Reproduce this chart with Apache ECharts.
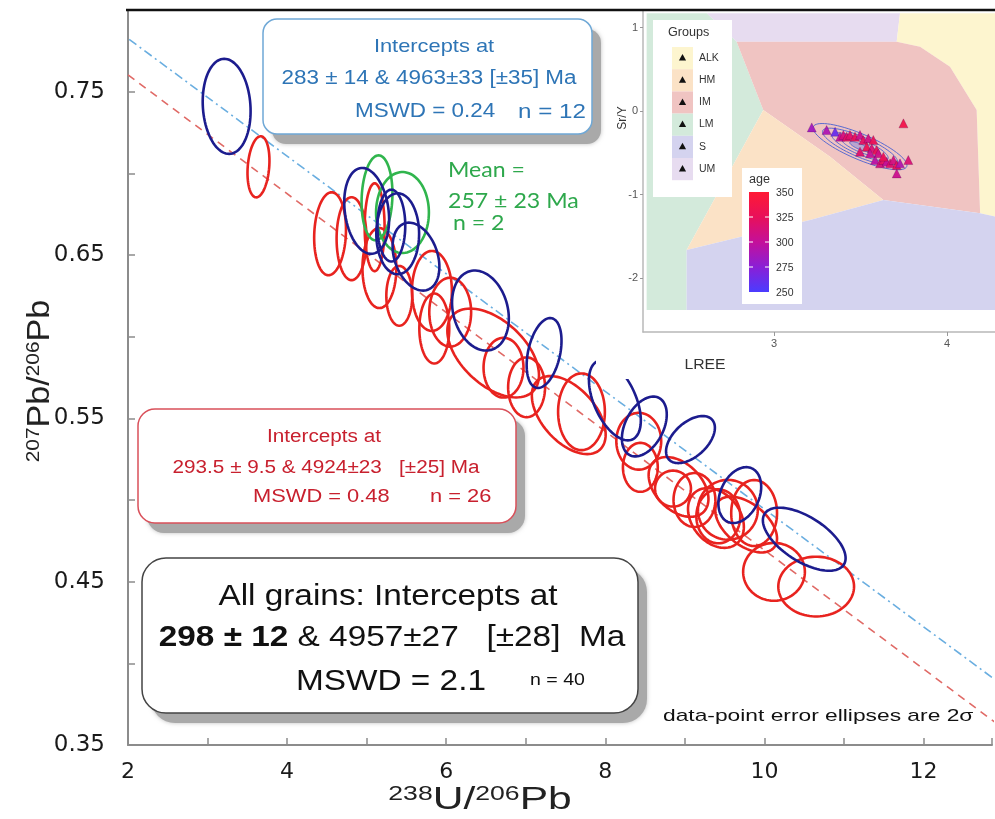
<!DOCTYPE html>
<html>
<head>
<meta charset="utf-8">
<script src="https://cdn.jsdelivr.net/npm/echarts@6/dist/echarts.min.js"></script>
<style>
html,body{margin:0;padding:0;background:#fff}
#chart{width:995px;height:819px}
</style>
</head>
<body>
<div id="chart"></div>
<script>
// ---------- Tera-Wasserburg diagram: 238U/206Pb vs 207Pb/206Pb ----------
// error ellipses: [238U/206Pb, 207Pb/206Pb, half-range x, half-range y, error correlation]
const redEllipses = [
  [3.64, 0.704, 0.138, 0.0187, 0.2],
  [4.54, 0.663, 0.200, 0.0254, 0.1],
  [4.81, 0.660, 0.188, 0.0254, 0.0],
  [5.10, 0.667, 0.125, 0.0269, 0.0],
  [5.16, 0.642, 0.213, 0.0245, 0.0],
  [5.41, 0.625, 0.163, 0.0183, 0.0],
  [5.82, 0.628, 0.251, 0.0245, 0.0],
  [5.85, 0.605, 0.188, 0.0214, 0.0],
  [6.05, 0.615, 0.263, 0.0211, 0.0],
  [6.59, 0.590, 0.576, 0.0272, -0.5],
  [6.72, 0.581, 0.251, 0.0183, 0.0],
  [7.01, 0.569, 0.232, 0.0183, 0.0],
  [7.54, 0.552, 0.464, 0.0239, -0.5],
  [7.70, 0.554, 0.294, 0.0235, 0.0],
  [8.42, 0.536, 0.282, 0.0174, 0.0],
  [8.44, 0.520, 0.219, 0.0150, 0.0],
  [8.92, 0.508, 0.376, 0.0183, -0.4],
  [8.85, 0.507, 0.226, 0.0110, 0.0],
  [9.12, 0.500, 0.263, 0.0165, 0.0],
  [9.39, 0.489, 0.351, 0.0183, -0.3],
  [9.54, 0.494, 0.376, 0.0183, 0.0],
  [9.77, 0.485, 0.388, 0.0171, -0.5],
  [9.87, 0.492, 0.288, 0.0202, 0.0],
  [10.12, 0.456, 0.388, 0.0177, 0.0],
  [10.65, 0.447, 0.476, 0.0183, 0.0],
  [9.42, 0.490, 0.276, 0.0165, 0.0]
];
const blueEllipses = [
  [3.24, 0.741, 0.301, 0.0291, -0.1],
  [5.00, 0.677, 0.282, 0.0263, -0.2],
  [5.39, 0.663, 0.269, 0.0248, 0.0],
  [5.62, 0.649, 0.294, 0.0208, -0.3],
  [5.31, 0.668, 0.175, 0.0220, 0.0],
  [6.43, 0.616, 0.357, 0.0245, -0.2],
  [7.23, 0.590, 0.219, 0.0214, 0.35],
  [8.12, 0.561, 0.326, 0.0245, -0.5],
  [8.49, 0.545, 0.282, 0.0183, 0.4],
  [9.07, 0.537, 0.307, 0.0144, 0.5],
  [9.69, 0.503, 0.269, 0.0171, 0.3],
  [10.50, 0.476, 0.520, 0.0193, -0.6]
];
const greenEllipses = [
  [5.13, 0.685, 0.194, 0.0260, 0.1],
  [5.45, 0.676, 0.332, 0.0248, 0.0]
];
// discordia intercept ages (Ma): [lower, upper]
const redIntercepts = [293.5, 4924];
const blueIntercepts = [283, 4963];
const xTickLabels = [2, 4, 6, 8, 10, 12];
const yTickLabels = [0.35, 0.45, 0.55, 0.65, 0.75];

// ---------- inset: LREE vs Sr/Y classification ----------
const groupNames = ['ALK', 'HM', 'IM', 'LM', 'S', 'UM'];
const fieldUM = [[2.611,1.170],[3.728,1.170],[3.709,0.830],[2.784,0.830]];
const fieldLM = [[2.264,1.170],[2.611,1.170],[2.784,0.830],[2.938,0.012],[2.495,-1.665],[2.495,-2.383],[2.264,-2.383]];
const fieldALK = [[3.728,1.170],[4.277,1.170],[4.277,-1.265],[4.191,-1.226],[4.171,0.012],[4.017,0.531],[3.844,0.770],[3.709,0.830]];
const fieldIM = [[2.784,0.830],[3.709,0.830],[3.844,0.770],[4.017,0.531],[4.171,0.012],[4.191,-1.226],[3.632,-1.066],[3.324,-0.547],[2.938,0.012]];
const fieldHM = [[2.938,0.012],[3.324,-0.547],[3.632,-1.066],[3.208,-1.305],[2.495,-1.665]];
const fieldS = [[2.495,-1.665],[3.208,-1.305],[3.632,-1.066],[4.191,-1.226],[4.277,-1.265],[4.277,-2.383],[2.495,-2.383]];
const grainLREE = [3.748,3.218,3.304,3.353,3.382,3.401,3.420,3.439,3.468,3.497,3.516,3.545,3.574,3.497,3.536,
                   3.565,3.593,3.603,3.584,3.613,3.632,3.651,3.671,3.690,3.709,3.728,3.709,3.776,3.632,3.555];
const grainSrY = [-0.148,-0.196,-0.228,-0.248,-0.307,-0.287,-0.307,-0.287,-0.307,-0.287,-0.347,-0.327,-0.347,-0.487,-0.427,
                  -0.447,-0.467,-0.507,-0.587,-0.627,-0.587,-0.607,-0.627,-0.587,-0.647,-0.627,-0.747,-0.587,-0.547,-0.507];
const grainAge = [335,285,290,262,300,312,320,318,325,305,322,310,328,318,330,
                  315,326,308,296,312,322,300,318,310,325,292,305,315,328,302];
const ageTicks = [350, 325, 300, 275, 250];
// density contours: centre, half-axis vectors, relative levels
const contourCentre = [3.497, -0.427];
const contourMajor = [0.2697, -0.2395];
const contourMinor = [-0.0289, -0.1397];
const contourLevels = [1.0, 0.8, 0.6, 0.4, 0.22];

// ---------- helpers ----------
const FONT = '"Liberation Sans", Arial, sans-serif';
const LAMBDA238 = 1.55125e-4;  // per Ma
const LAMBDA235 = 9.8485e-4;   // per Ma
const U238_U235 = 137.88;
function twPoint(tMa) {
  const a = Math.exp(LAMBDA238 * tMa) - 1;
  const b = Math.exp(LAMBDA235 * tMa) - 1;
  return [1 / a, b / a / U238_U235];
}
function discordia(ages) {
  return [twPoint(ages[1]), twPoint(ages[0])];
}

function ellipseRenderer(color) {
  return function (params, api) {
    const cx = api.value(0), cy = api.value(1), ex = api.value(2), ey = api.value(3), r = api.value(4);
    const s = Math.sqrt(1 - r * r);
    const pts = [];
    for (let k = 0; k < 90; k++) {
      const t = 2 * Math.PI * k / 90;
      pts.push(api.coord([cx + ex * Math.cos(t), cy + ey * (r * Math.cos(t) + s * Math.sin(t))]));
    }
    return { type: 'polygon', shape: { points: pts }, style: { fill: 'none', stroke: color, lineWidth: 2.6 } };
  };
}
function ellipseSeries(data, color) {
  return {
    type: 'custom', xAxisIndex: 0, yAxisIndex: 0, clip: true, z: 3,
    encode: { x: 0, y: 1 }, data: data, renderItem: ellipseRenderer(color)
  };
}

const fields = [
  { pts: fieldUM, color: '#e7dcf0' },
  { pts: fieldLM, color: '#d3eadb' },
  { pts: fieldALK, color: '#fdf5cf' },
  { pts: fieldIM, color: '#f0c4c2' },
  { pts: fieldHM, color: '#fbe2c6' },
  { pts: fieldS, color: '#d4d3ef' }
];
const groupColors = ['#fdf5cf', '#fbe2c6', '#f0c4c2', '#d3eadb', '#d4d3ef', '#e7dcf0'];

function txt(text, x, y, size, color, o) {
  o = o || {};
  return {
    type: 'text', x: x, y: y, z: o.z || 45, scaleX: o.sx === undefined ? 1.15 : o.sx,
    rotation: o.rot || 0,
    style: {
      text: text, fill: color, fontSize: size, fontFamily: o.family || FONT,
      fontWeight: o.weight || 'normal', align: o.align || 'left', verticalAlign: 'middle',
      rich: o.rich
    }
  };
}
// rounded text box with a drop shadow plate behind it
function box(x, y, w, h, r, stroke) {
  return [
    {
      type: 'rect', z: 39, shape: { x: x + 9, y: y + 10, width: w, height: h, r: r },
      style: { fill: '#a9a9a9', shadowColor: 'rgba(0,0,0,0.25)', shadowBlur: 4 }
    },
    {
      type: 'rect', z: 40, shape: { x: x, y: y, width: w, height: h, r: r },
      style: { fill: '#fff', stroke: stroke, lineWidth: 1.5 }
    }
  ];
}

const chart = echarts.init(document.getElementById('chart'), null, { renderer: 'canvas' });

// ---------- graphic overlay ----------
const blueTxt = '#2e75b6', redTxt = '#c8202e', greenTxt = '#2ea84c';
const els = [];
// inset backdrop
els.push({ type: 'rect', z: 10, shape: { x: 596, y: 11, width: 399, height: 368 }, style: { fill: '#fff' } });
// inset group legend
els.push({ type: 'rect', z: 30, shape: { x: 653, y: 20, width: 79, height: 177 }, style: { fill: '#fff' } });
els.push(txt('Groups', 668, 33, 12, '#333', { z: 31, sx: 1.05 }));
groupNames.forEach(function (g, i) {
  const top = 47 + 22.2 * i;
  els.push({ type: 'rect', z: 31, shape: { x: 672, y: top, width: 21, height: 22.2 }, style: { fill: groupColors[i] } });
  const cx = 682.5, cy = top + 11;
  els.push({ type: 'polygon', z: 32, shape: { points: [[cx, cy - 4], [cx - 3.6, cy + 2.5], [cx + 3.6, cy + 2.5]] }, style: { fill: '#111' } });
  els.push(txt(g, 699, cy, 10, '#333', { z: 32, sx: 1.05 }));
});
// inset age colour bar
els.push({ type: 'rect', z: 30, shape: { x: 742, y: 168, width: 60, height: 136 }, style: { fill: '#fff' } });
els.push(txt('age', 749, 180, 12, '#333', { z: 31, sx: 1.05 }));
els.push({
  type: 'rect', z: 31, shape: { x: 749, y: 192, width: 20, height: 100 },
  style: {
    fill: {
      type: 'linear', x: 0, y: 0, x2: 0, y2: 1,
      colorStops: [
        { offset: 0, color: '#ff1a35' }, { offset: 0.25, color: '#e8105a' },
        { offset: 0.5, color: '#c4109a' }, { offset: 0.75, color: '#8a1fd6' }, { offset: 1, color: '#4b3cff' }
      ]
    }
  }
});
ageTicks.forEach(function (a) {
  const yy = 192 + (350 - a);
  if (a !== 350 && a !== 250) {
    els.push({ type: 'line', z: 32, shape: { x1: 749, y1: yy, x2: 753, y2: yy }, style: { stroke: '#fff', lineWidth: 1 } });
    els.push({ type: 'line', z: 32, shape: { x1: 765, y1: yy, x2: 769, y2: yy }, style: { stroke: '#fff', lineWidth: 1 } });
  }
  els.push(txt(String(a), 776, yy + 1, 10, '#333', { z: 32, sx: 1.05 }));
});
// inset axis titles
els.push(txt('Sr/Y', 623, 118, 12, '#333', { z: 31, sx: 1, rot: Math.PI / 2, align: 'center' }));
els.push(txt('LREE', 705, 365, 15, '#333', { z: 31, sx: 1.05, align: 'center' }));

// isochron result boxes
box(263, 19, 329, 115, 14, '#6fa8d6').forEach(function (e) { els.push(e); });
els.push(txt('Intercepts at', 434, 47, 19, blueTxt, { align: 'center' }));
els.push(txt('283 ± 14 & 4963±33 [±35] Ma', 429, 79, 19.5, blueTxt, { align: 'center' }));
els.push(txt('MSWD = 0.24', 355, 112, 19.5, blueTxt));
els.push(txt('n = 12', 518, 112, 21, blueTxt));

els.push(txt('Mean =', 448, 170, 22, greenTxt, { family: 'Lato, "Open Sans", sans-serif', sx: 1.05 }));
els.push(txt('257 ± 23 Ma', 448, 201, 22, greenTxt, { family: 'Lato, "Open Sans", sans-serif', sx: 1.05 }));
els.push(txt('n = 2', 453, 223, 22, greenTxt, { family: 'Lato, "Open Sans", sans-serif', sx: 1.05 }));

box(138, 409, 378, 114, 17, '#d9505a').forEach(function (e) { els.push(e); });
els.push(txt('Intercepts at', 324, 437, 18, redTxt, { align: 'center' }));
els.push(txt('293.5 ± 9.5 & 4924±23   [±25] Ma', 326, 468, 18, redTxt, { align: 'center' }));
els.push(txt('MSWD = 0.48', 253, 497, 19, redTxt));
els.push(txt('n = 26', 430, 497, 19, redTxt));

box(142, 558, 496, 155, 24, '#444').forEach(function (e) { els.push(e); });
els.push(txt('All grains: Intercepts at', 388, 597, 29, '#111', { align: 'center' }));
els.push(txt('{b|298 ± 12} & 4957±27   [±28]  Ma', 392, 638, 29, '#111', {
  align: 'center',
  rich: { b: { fontSize: 29, fontWeight: 'bold', fontFamily: FONT, fill: '#111' } }
}));
els.push(txt('MSWD = 2.1', 296, 682, 29, '#111'));
els.push(txt('n = 40', 530, 680, 17, '#111'));
els.push(txt('data-point error ellipses are 2σ', 663, 716, 17, '#111', { sx: 1.34 }));

// main axis titles
els.push(txt('{s|207}{b|Pb/}{s|206}{b|Pb}', 40, 381, 31, '#222', {
  rot: Math.PI / 2, align: 'center', sx: 1.1, z: 5,
  rich: {
    s: { fontSize: 19, fontFamily: FONT, fill: '#222', verticalAlign: 'top' },
    b: { fontSize: 31, fontFamily: FONT, fill: '#222' }
  }
}));
els.push(txt('{s|238}{b|U/}{s|206}{b|Pb}', 480, 800, 32, '#222', {
  align: 'center', sx: 1.33, z: 5,
  rich: {
    s: { fontSize: 20, fontFamily: FONT, fill: '#222', verticalAlign: 'top' },
    b: { fontSize: 32, fontFamily: FONT, fill: '#222' }
  }
}));
// frame top edge
els.push({ type: 'line', z: 60, shape: { x1: 126, y1: 10, x2: 995, y2: 10 }, style: { stroke: '#111', lineWidth: 2.5 } });

const option = {
  animation: false,
  grid: [
    { left: 128, top: 10, right: 0, bottom: 74 },
    { left: 643, top: 10, right: 0, bottom: 487 }
  ],
  xAxis: [
    {
      type: 'value', gridIndex: 0, min: 2, max: 12.86, interval: 1,
      axisLine: { show: true, lineStyle: { color: '#8c8c8c', width: 2 } },
      axisTick: { show: true, inside: true, length: 7, lineStyle: { color: '#8c8c8c', width: 1.5 } },
      axisLabel: {
        margin: 16, fontSize: 22, color: '#1a1a1a', fontFamily: '"DejaVu Sans", sans-serif',
        formatter: function (v) { return xTickLabels.indexOf(Math.round(v * 1000) / 1000) >= 0 ? String(v) : ''; }
      },
      splitLine: { show: false }
    },
    {
      type: 'value', gridIndex: 1, min: 2.243, max: 4.277, z: 25,
      axisLine: { show: true, onZero: false, lineStyle: { color: '#b8b8b8', width: 1.5 } },
      axisTick: { show: true, length: 4, customValues: [3, 4], lineStyle: { color: '#999' } },
      axisLabel: { customValues: [3, 4], fontSize: 11, color: '#555', margin: 6, fontFamily: FONT },
      splitLine: { show: false }
    }
  ],
  yAxis: [
    {
      type: 'value', gridIndex: 0, min: 0.35, max: 0.8, interval: 0.05,
      axisLine: { show: true, lineStyle: { color: '#8c8c8c', width: 2 } },
      axisTick: { show: true, inside: true, length: 7, lineStyle: { color: '#8c8c8c', width: 1.5 } },
      axisLabel: {
        margin: 23, fontSize: 23, color: '#1a1a1a', fontFamily: '"DejaVu Sans", sans-serif',
        formatter: function (v) {
          const r = Math.round(v * 100) / 100;
          return yTickLabels.indexOf(r) >= 0 ? r.toFixed(2) : '';
        }
      },
      splitLine: { show: false }
    },
    {
      type: 'value', gridIndex: 1, min: -2.647, max: 1.21, z: 25,
      axisLine: { show: true, onZero: false, lineStyle: { color: '#b8b8b8', width: 1.5 } },
      axisTick: { show: true, length: 3, customValues: [-2, -1, 0, 1], lineStyle: { color: '#999' } },
      axisLabel: { customValues: [-2, -1, 0, 1], fontSize: 11, color: '#555', margin: 5, fontFamily: FONT },
      splitLine: { show: false }
    }
  ],
  visualMap: [{
    type: 'continuous', show: false, seriesIndex: 7, dimension: 2, min: 250, max: 350,
    inRange: { color: ['#4b3cff', '#8a1fd6', '#c4109a', '#e8105a', '#ff1a35'] }
  }],
  series: [
    {
      type: 'line', xAxisIndex: 0, yAxisIndex: 0, data: discordia(redIntercepts), symbol: 'none', clip: true, z: 2,
      lineStyle: { color: '#e06a66', width: 1.6, type: [8, 6] }
    },
    {
      type: 'line', xAxisIndex: 0, yAxisIndex: 0, data: discordia(blueIntercepts), symbol: 'none', clip: true, z: 2,
      lineStyle: { color: '#6aaee0', width: 1.6, type: [9, 4, 2, 4] }
    },
    ellipseSeries(redEllipses, '#e8231f'),
    ellipseSeries(greenEllipses, '#30b54d'),
    ellipseSeries(blueEllipses, '#1c1c8e'),
    {
      type: 'custom', xAxisIndex: 1, yAxisIndex: 1, clip: true, z: 20,
      encode: { x: 0, y: 1 },
      data: fields.map(function (f, i) { return [f.pts[0][0], f.pts[0][1], i]; }),
      renderItem: function (params, api) {
        const f = fields[api.value(2)];
        return { type: 'polygon', shape: { points: f.pts.map(function (p) { return api.coord(p); }) }, style: { fill: f.color } };
      }
    },
    {
      type: 'custom', xAxisIndex: 1, yAxisIndex: 1, clip: true, z: 21,
      encode: { x: 0, y: 1 },
      data: contourLevels.map(function (s) { return [contourCentre[0], contourCentre[1], s]; }),
      renderItem: function (params, api) {
        const s = api.value(2);
        const pts = [];
        for (let k = 0; k < 72; k++) {
          const t = 2 * Math.PI * k / 72;
          pts.push(api.coord([
            contourCentre[0] + s * (contourMajor[0] * Math.cos(t) + contourMinor[0] * Math.sin(t)),
            contourCentre[1] + s * (contourMajor[1] * Math.cos(t) + contourMinor[1] * Math.sin(t))
          ]));
        }
        return {
          type: 'polygon', shape: { points: pts },
          style: { fill: s < 0.3 ? 'rgba(90,110,230,0.35)' : 'none', stroke: '#5b6bd0', lineWidth: 1 }
        };
      }
    },
    {
      type: 'scatter', xAxisIndex: 1, yAxisIndex: 1, z: 22, symbol: 'triangle', symbolSize: 9,
      data: grainLREE.map(function (l, i) { return [l, grainSrY[i], grainAge[i]]; }),
      itemStyle: { borderColor: 'rgba(70,0,70,0.5)', borderWidth: 0.5, opacity: 0.95 }
    }
  ],
  graphic: { elements: els }
};
chart.setOption(option);
</script>
</body>
</html>
